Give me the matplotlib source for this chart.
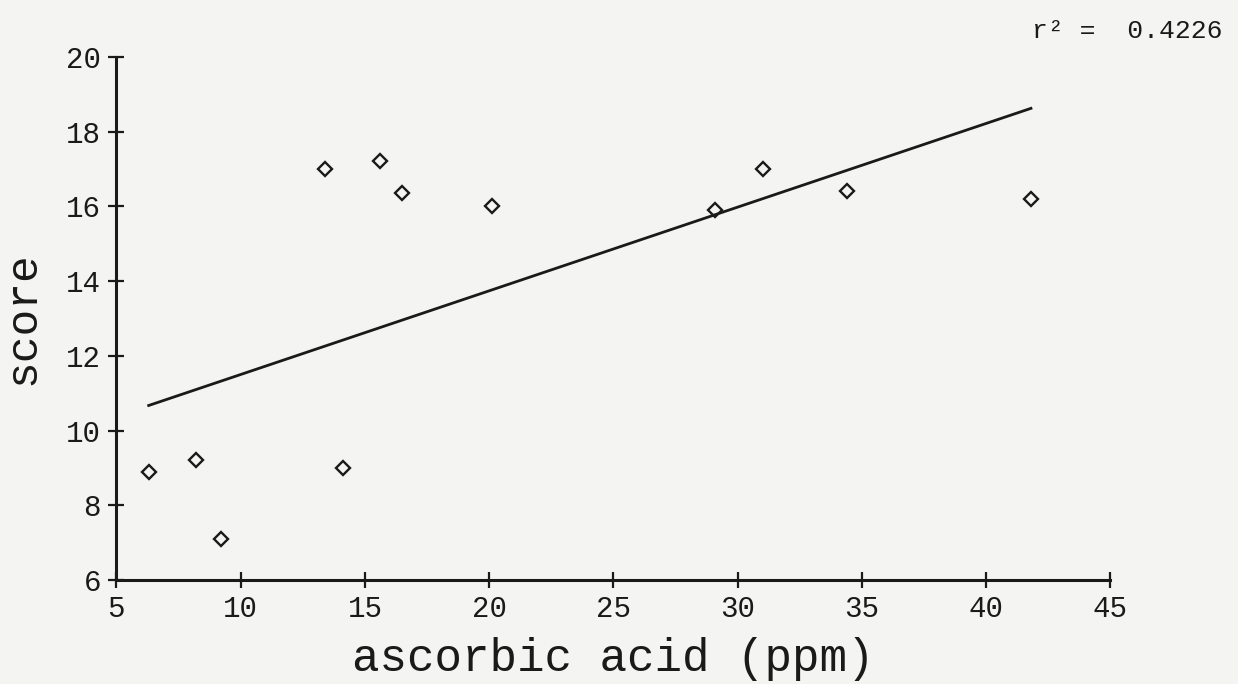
import matplotlib
matplotlib.use("Agg")
import matplotlib.pyplot as plt

# ascorbic acid (ppm) vs score
acid = [6.3, 8.2, 9.2, 14.1, 13.4, 15.6, 16.5, 20.1, 29.1, 31.0, 34.4, 41.8]
score = [8.9, 9.2, 7.1, 9.0, 17.0, 17.2, 16.35, 16.0, 15.9, 17.0, 16.4, 16.2]

# fitted line end points
fit_x = [6.3, 41.8]
fit_y = [10.67, 18.62]

R2_TEXT = "r² =  0.4226"
X_TICKS = [5, 10, 15, 20, 25, 30, 35, 40, 45]
Y_TICKS = [6, 8, 10, 12, 14, 16, 18, 20]

FONT = "Liberation Mono"
INK = "#1a1a1a"
PAPER = "#f4f4f2"

fig = plt.figure(figsize=(12.38, 6.84), dpi=100, facecolor=PAPER)
ax = fig.add_axes([0.094, 0.152, 0.803, 0.765])
ax.set_facecolor(PAPER)

ax.plot(fit_x, fit_y, color=INK, linewidth=2.0, zorder=2)
ax.plot(acid, score, linestyle="none", marker="D", markersize=7,
        markerfacecolor="none", markeredgecolor=INK, markeredgewidth=1.7, zorder=3)

ax.set_xlim(5, 45)
ax.set_ylim(6, 20)
ax.set_xticks(X_TICKS)
ax.set_yticks(Y_TICKS)

for side in ["top", "right"]:
    ax.spines[side].set_visible(False)
for side in ["left", "bottom"]:
    ax.spines[side].set_linewidth(2.2)
    ax.spines[side].set_color(INK)

ax.tick_params(direction="inout", length=12, width=1.6, colors=INK,
               labelsize=21, pad=5)
for lbl in ax.get_xticklabels() + ax.get_yticklabels():
    lbl.set_fontfamily(FONT)

ax.set_xlabel("ascorbic acid (ppm)", fontsize=33, fontfamily=FONT, color=INK, labelpad=10)
ax.set_ylabel("score", fontsize=32, fontfamily=FONT, color=INK, labelpad=16)

fig.text(0.834, 0.955, R2_TEXT, fontsize=19, fontfamily=FONT, color=INK,
         ha="left", va="center")

fig.savefig("out.png", dpi=100, facecolor=PAPER)
